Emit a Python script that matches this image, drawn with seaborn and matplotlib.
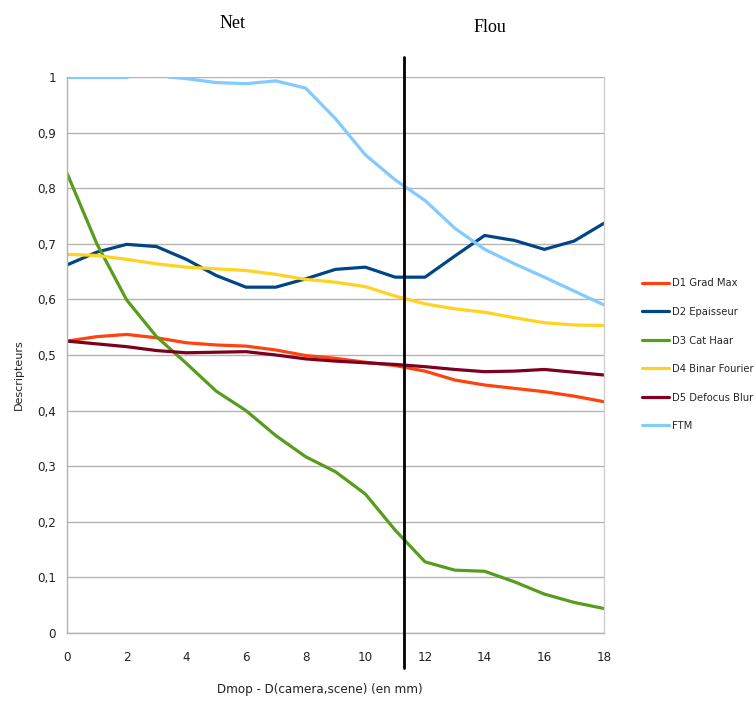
import numpy as np
import pandas as pd
import matplotlib
matplotlib.use("Agg")
import matplotlib.pyplot as plt
import seaborn as sns

# ---------------- data ----------------
x_vals = list(range(19))
d1_grad_max = [0.525, 0.533, 0.537, 0.531, 0.522, 0.518, 0.516, 0.509, 0.499, 0.494,
               0.487, 0.481, 0.471, 0.455, 0.446, 0.440, 0.434, 0.426, 0.416]
d2_epaisseur = [0.662, 0.685, 0.699, 0.695, 0.672, 0.643, 0.622, 0.622, 0.637, 0.654,
                0.658, 0.640, 0.640, 0.678, 0.715, 0.706, 0.690, 0.705, 0.737]
d3_cat_haar = [0.827, 0.700, 0.599, 0.533, 0.485, 0.435, 0.400, 0.355, 0.317, 0.290,
               0.250, 0.185, 0.128, 0.113, 0.111, 0.092, 0.070, 0.055, 0.044]
d4_binar_fourier = [0.681, 0.679, 0.672, 0.664, 0.658, 0.655, 0.652, 0.645, 0.636, 0.631,
                    0.623, 0.606, 0.592, 0.583, 0.577, 0.567, 0.558, 0.554, 0.553]
d5_defocus_blur = [0.525, 0.520, 0.515, 0.508, 0.504, 0.505, 0.506, 0.500, 0.493, 0.489,
                   0.486, 0.483, 0.479, 0.474, 0.470, 0.471, 0.474, 0.469, 0.464]
ftm_x_a = [0, 1, 2]
ftm_y_a = [1.0, 1.0, 1.0]
ftm_x_b = [3.4, 4, 5, 6, 7, 8, 9, 10, 11, 12, 13, 14, 15, 16, 17, 18]
ftm_y_b = [1.0, 0.997, 0.990, 0.988, 0.993, 0.980, 0.925, 0.860, 0.815, 0.778,
           0.728, 0.690, 0.664, 0.640, 0.615, 0.590]

series_names = ["D1 Grad Max", "D2 Epaisseur", "D3 Cat Haar",
                "D4 Binar Fourier", "D5 Defocus Blur", "FTM"]
series_colors = ["#ff420e", "#004586", "#579d1c", "#ffd320", "#7e0021", "#83caff"]

x_ticks = [0, 2, 4, 6, 8, 10, 12, 14, 16, 18]
x_tick_labels = ["0", "2", "4", "6", "8", "10", "12", "14", "16", "18"]
y_ticks = [0, 0.1, 0.2, 0.3, 0.4, 0.5, 0.6, 0.7, 0.8, 0.9, 1.0]
y_tick_labels = ["0", "0,1", "0,2", "0,3", "0,4", "0,5", "0,6", "0,7", "0,8", "0,9", "1"]

boundary_x = 11.3
x_label = "Dmop - D(camera,scene) (en mm)"
y_label = "Descripteurs"
zone_left = "Net"
zone_right = "Flou"

# ---------------- build table ----------------
rows = []
for name, ys in zip(series_names[:5],
                    [d1_grad_max, d2_epaisseur, d3_cat_haar, d4_binar_fourier, d5_defocus_blur]):
    for xv, yv in zip(x_vals, ys):
        rows.append({"x": xv, "y": yv, "series": name, "seg": name + "-0"})
for xv, yv in zip(ftm_x_a, ftm_y_a):
    rows.append({"x": xv, "y": yv, "series": "FTM", "seg": "FTM-0"})
for xv, yv in zip(ftm_x_b, ftm_y_b):
    rows.append({"x": xv, "y": yv, "series": "FTM", "seg": "FTM-1"})
df = pd.DataFrame(rows)

# ---------------- style ----------------
sns.set_style("white")
plt.rcParams["font.family"] = ["DejaVu Sans"]
plt.rcParams["font.stretch"] = "condensed"

fig = plt.figure(figsize=(7.56, 7.03), dpi=100)
W, H = 756, 703
ax = fig.add_axes([67 / W, 1 - 633 / H, (604 - 67) / W, (633 - 77) / H])

sns.lineplot(data=df, x="x", y="y", hue="series", units="seg", estimator=None,
             sort=False, palette=dict(zip(series_names, series_colors)),
             hue_order=series_names, linewidth=2.3, ax=ax, legend=True)

ax.set_xlim(0, 18)
ax.set_ylim(0, 1)
ax.set_xticks(x_ticks)
ax.set_xticklabels(x_tick_labels)
ax.set_yticks(y_ticks)
ax.set_yticklabels(y_tick_labels)

grid_c = "#b3b3b3"
ax.yaxis.grid(True, color=grid_c, linewidth=1.0)
ax.xaxis.grid(False)
ax.set_axisbelow(True)
for side in ["left", "bottom", "right"]:
    ax.spines[side].set_visible(True)
    ax.spines[side].set_color(grid_c)
    ax.spines[side].set_linewidth(1.0)
ax.spines["right"].set_color("#d0d0d0")
ax.spines["top"].set_visible(False)
ax.tick_params(axis="both", which="major", length=4, width=1.0, color=grid_c,
               labelsize=9.5, labelcolor="#222222", direction="out")
ax.tick_params(axis="x", pad=9)
ax.tick_params(axis="y", pad=4)
ax.set_xlabel("")
ax.set_ylabel("")

# boundary line
ax.plot([boundary_x, boundary_x], [-0.063, 1.036], color="black", linewidth=2.0,
        clip_on=False, zorder=5)

# legend
handles, labels = ax.get_legend_handles_labels()
leg = ax.legend(handles, labels, loc="upper left",
                bbox_to_anchor=(638 / W, 1 - 274 / H), bbox_transform=fig.transFigure,
                frameon=False, fontsize=8, handlelength=2.4, handletextpad=0.3,
                labelspacing=1.67, borderaxespad=0)
for line in leg.get_lines():
    line.set_linewidth(2.3)

# axis titles
fig.text(320 / W, 1 - 690 / H, x_label, ha="center", va="center", fontsize=9.5,
         color="#222222")
fig.text(19 / W, 1 - 375 / H, y_label, ha="center", va="center", rotation=90,
         fontsize=8, color="#222222", family="DejaVu Sans", stretch="normal")

# zone labels
fig.text(233 / W, 1 - 23 / H, zone_left, ha="center", va="center", fontsize=13,
         family=["Liberation Serif", "DejaVu Serif"], stretch="normal", color="black")
fig.text(490 / W, 1 - 28 / H, zone_right, ha="center", va="center", fontsize=13,
         family=["Liberation Serif", "DejaVu Serif"], stretch="normal", color="black")

fig.savefig("out.png", dpi=100)
